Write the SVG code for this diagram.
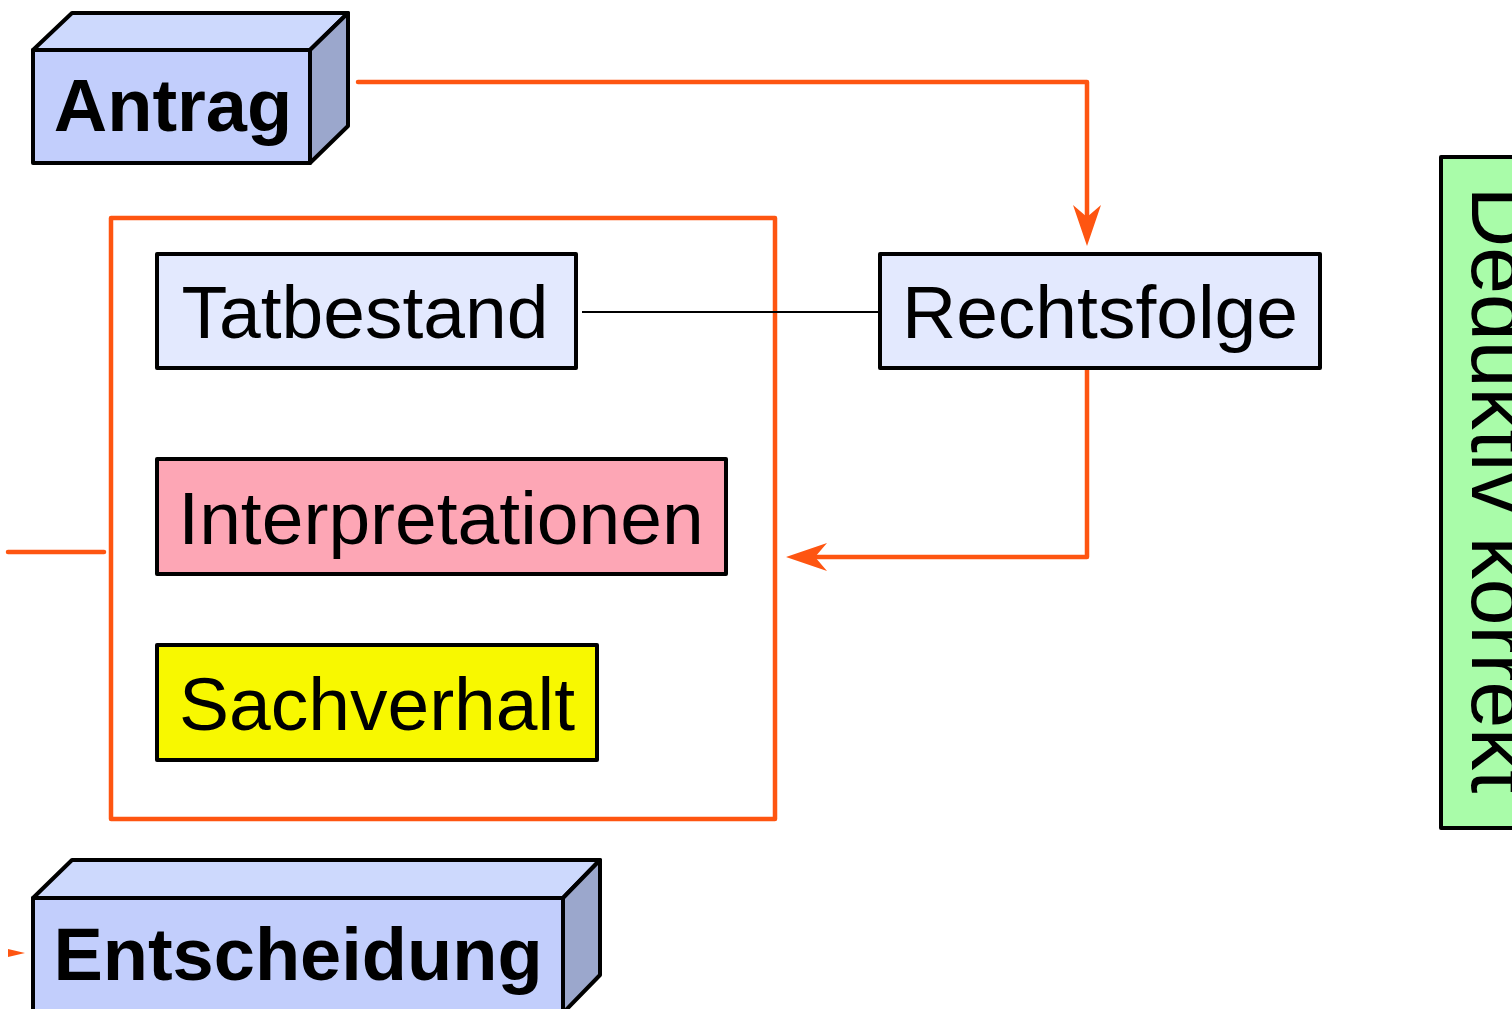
<svg xmlns="http://www.w3.org/2000/svg" width="1512" height="1009" viewBox="0 0 1512 1009">
  <style>
    .box { stroke: #000; stroke-width: 4; stroke-linejoin: round; }
    .blk-front { fill: #c2cefc; stroke: #000; stroke-width: 4; stroke-linejoin: round; }
    .blk-top { fill: #cdd9fd; stroke: #000; stroke-width: 4; stroke-linejoin: round; }
    .blk-side { fill: #9ba7cc; stroke: #000; stroke-width: 4; stroke-linejoin: round; }
    .lbl { font-family: "Liberation Sans", Arial, sans-serif; font-size: 75px; fill: #000; text-anchor: middle; }
    .bold { font-weight: bold; font-size: 74px; }
    .flow { fill: none; stroke: #fe5511; stroke-width: 4.5; stroke-linejoin: round; stroke-linecap: round; }
    .link { fill: none; stroke: #000; stroke-width: 2; }
  </style>
  <defs>
    <marker id="arrow" markerUnits="userSpaceOnUse" viewBox="-13 -15 44 30" markerWidth="44" markerHeight="30" refX="0" refY="0" orient="auto">
      <path d="M29,0 L-12,-14 L0,0 L-12,14 Z" fill="#fe5511"/>
    </marker>
  </defs>

  <rect width="1512" height="1009" fill="#fff"/>

  <!-- grouping frame around the premises -->
  <g id="frame">
    <rect x="111" y="218" width="664" height="601" fill="none" stroke="#fe5511" stroke-width="4.5" stroke-linejoin="round"/>
  </g>

  <g id="connectors">
    <path class="flow" d="M358,82 H1087 V217" marker-end="url(#arrow)"/>
    <path class="flow" d="M1087,370 V557 H815" marker-end="url(#arrow)"/>
    <path class="flow" d="M8,552 H104"/>
    <path class="link" d="M582,312 H880"/>
    <polygon points="8,949 25,953 8,957" fill="#fe5511"/>
  </g>

  <g id="antrag">
    <polygon class="blk-top" points="33,50 72,13 348,13 310,50"/>
    <polygon class="blk-side" points="310,50 348,13 348,126 310,163"/>
    <rect class="blk-front" x="33" y="50" width="277" height="113"/>
    <text class="lbl bold" x="173" y="131">Antrag</text>
  </g>

  <g id="tatbestand">
    <rect class="box" x="157" y="254" width="419" height="114" fill="#e3e9fe"/>
    <text class="lbl" x="365" y="338">Tatbestand</text>
  </g>

  <g id="rechtsfolge">
    <rect class="box" x="880" y="254" width="440" height="114" fill="#e3e9fe"/>
    <text class="lbl" x="1100" y="338">Rechtsfolge</text>
  </g>

  <g id="interpretationen">
    <rect class="box" x="157" y="459" width="569" height="115" fill="#fda6b5"/>
    <text class="lbl" x="441" y="544">Interpretationen</text>
  </g>

  <g id="sachverhalt">
    <rect class="box" x="157" y="645" width="440" height="115" fill="#f8f800"/>
    <text class="lbl" x="377" y="730">Sachverhalt</text>
  </g>

  <g id="entscheidung">
    <polygon class="blk-top" points="33,898 72,860 600,860 563,898"/>
    <polygon class="blk-side" points="563,898 600,860 600,975 563,1013"/>
    <rect class="blk-front" x="33" y="898" width="530" height="115"/>
    <text class="lbl bold" x="298" y="980">Entscheidung</text>
  </g>

  <g id="deduktiv">
    <rect class="box" x="1441" y="157" width="120" height="671" fill="#a9fca9"/>
    <text class="lbl" style="font-size:84px" transform="translate(1472,490) rotate(90)">Deduktiv korrekt</text>
  </g>
</svg>
